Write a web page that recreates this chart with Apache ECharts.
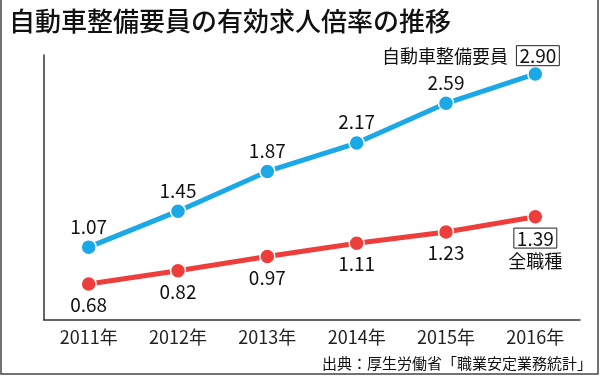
<!DOCTYPE html>
<html>
<head>
<meta charset="utf-8">
<script src="https://cdn.jsdelivr.net/npm/echarts@6/dist/echarts.min.js"></script>
<style>
  html, body { margin: 0; padding: 0; background: #fff; }
  #chart { width: 600px; height: 376px; }
</style>
</head>
<body>
<div id="chart"></div>
<script>
var years = ['2011年', '2012年', '2013年', '2014年', '2015年', '2016年'];
var mechanics = [1.07, 1.45, 1.87, 2.17, 2.59, 2.90];
var allJobs = [0.68, 0.82, 0.97, 1.11, 1.23, 1.39];
var mechanicsName = '自動車整備要員';
var allJobsName = '全職種';

var FONT = '"Noto Sans CJK JP", sans-serif';
var BLUE = '#1ba8e6';
var RED = '#ee3e3c';

// last point gets a boxed value plus the series name
function buildData(values, isTop, name) {
    return values.map(function (v, i) {
        var item = { value: v };
        if (i === values.length - 1) {
            if (isTop) {
                item.label = {
                    position: 'top',
                    align: 'right',
                    distance: 6,
                    offset: [24, 9],
                    formatter: '{n|' + name + '}  {b|' + v.toFixed(2) + '}',
                };
            } else {
                item.label = {
                    position: 'bottom',
                    distance: 3,
                    formatter: '{b|' + v.toFixed(2) + '}\n{n|' + name + '}',
                };
            }
        }
        return item;
    });
}

var richStyles = {
    b: {
        fontFamily: FONT,
        fontSize: 19,
        color: '#111',
        borderColor: '#222',
        borderWidth: 1,
        padding: [1, 3, 0, 3],
        lineHeight: 20
    },
    n: {
        fontFamily: FONT,
        fontSize: 18,
        color: '#111',
        lineHeight: 26
    }
};

var chart = echarts.init(document.getElementById('chart'));
chart.setOption({
    animation: false,
    title: {
        text: '自動車整備要員の有効求人倍率の推移',
        left: 4,
        top: 3,
        textStyle: { fontFamily: FONT, fontSize: 26, fontWeight: 500, color: '#111' }
    },
    grid: { left: 44, right: 20, top: 55, bottom: 56 },
    xAxis: {
        type: 'category',
        data: years,
        boundaryGap: true,
        axisLine: { lineStyle: { color: '#333', width: 1.5 } },
        axisTick: { show: false },
        axisLabel: { fontFamily: FONT, fontSize: 18, color: '#222', margin: 8 }
    },
    yAxis: {
        type: 'value',
        min: 0.3,
        max: 3.1,
        axisLine: { show: true, lineStyle: { color: '#333', width: 1.5 } },
        axisTick: { show: false },
        axisLabel: { show: false },
        splitLine: { show: false }
    },
    series: [
        {
            name: mechanicsName,
            type: 'line',
            data: buildData(mechanics, true, mechanicsName),
            symbol: 'circle',
            symbolSize: 15,
            lineStyle: { color: BLUE, width: 5 },
            itemStyle: { color: BLUE, borderColor: '#fff', borderWidth: 1.5 },
            label: {
                show: true,
                position: 'top',
                distance: 3,
                fontFamily: FONT,
                fontSize: 19,
                color: '#111',
                formatter: function (p) { return p.value.toFixed(2); },
                rich: richStyles
            }
        },
        {
            name: allJobsName,
            type: 'line',
            data: buildData(allJobs, false, allJobsName),
            symbol: 'circle',
            symbolSize: 15,
            lineStyle: { color: RED, width: 5 },
            itemStyle: { color: RED, borderColor: '#fff', borderWidth: 1.5 },
            label: {
                show: true,
                position: 'bottom',
                distance: 3,
                fontFamily: FONT,
                fontSize: 19,
                color: '#111',
                formatter: function (p) { return p.value.toFixed(2); },
                rich: richStyles
            }
        }
    ],
    graphic: [
        {
            type: 'rect',
            shape: { x: 1, y: -5, width: 597, height: 379 },
            style: { fill: 'none', stroke: '#444', lineWidth: 1.5 }
        },
        {
            type: 'text',
            right: 8,
            bottom: 5,
            style: {
                text: '出典：厚生労働省「職業安定業務統計」',
                fontFamily: FONT,
                fontSize: 15,
                fill: '#111'
            }
        }
    ]
});
</script>
</body>
</html>
